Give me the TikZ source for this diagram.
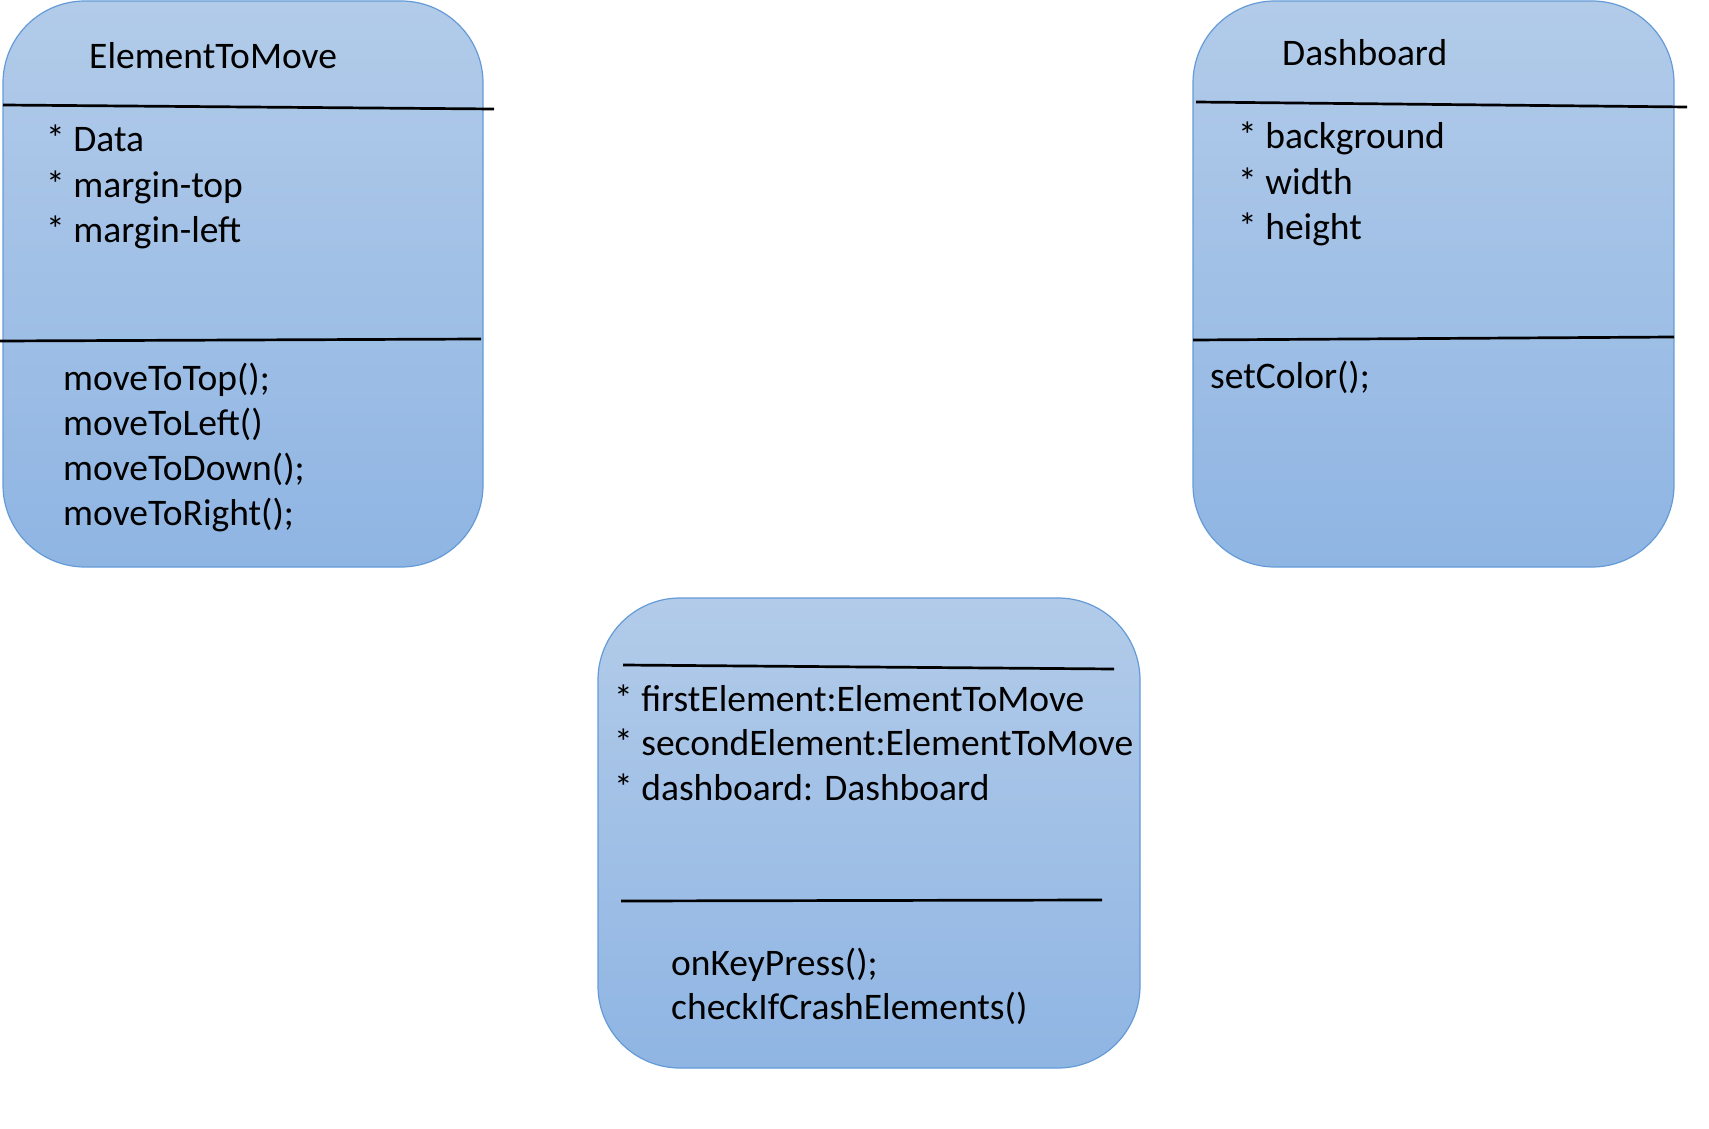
\documentclass[tikz,border=0pt]{standalone}
\usepackage{fontspec}
\setmainfont{Carlito}
\definecolor{boxtop}{RGB}{178,203,233}
\definecolor{boxbot}{RGB}{143,181,227}
\definecolor{boxline}{RGB}{100,155,215}
\tikzset{
  classbox/.style={draw=boxline,line width=1.2pt,rounded corners=82pt,top color=boxtop,bottom color=boxbot},
  sepline/.style={black,line width=2.7pt},
  txt/.style={anchor=base west,inner sep=0pt,font=\fontsize{37.5}{45}\selectfont}
}
\begin{document}
\begin{tikzpicture}[x=1pt,y=-1pt]
 \useasboundingbox (0,0) rectangle (1709,1129);
 % ElementToMove
 \draw[classbox] (3,1) rectangle (483,567);
 \node[txt] (elemtitle) at (89,69) {ElementToMove};
 \draw[sepline] (3,105) -- (494,109);
 \foreach \t [count=\i] in {{* Data},{* margin-top},{* margin-left}}
   \node[txt] (elemattr\i) at (46,152+45*\i-45) {\t};
 \draw[sepline] (0,341) -- (481,339);
 \foreach \t [count=\i] in {{moveToTop();},{moveToLeft()},{moveToDown();},{moveToRight();}}
   \node[txt] (elemop\i) at (63,390+45*\i-45) {\t};
 % Dashboard
 \draw[classbox] (1193,1) rectangle (1674,567);
 \node[txt] (dashtitle) at (1282,66) {Dashboard};
 \draw[sepline] (1196,102) -- (1687,107);
 \foreach \t [count=\i] in {{* background},{* width},{* height}}
   \node[txt] (dashattr\i) at (1238,149+45*\i-45) {\t};
 \draw[sepline] (1193,340) -- (1674,337);
 \node[txt] (dashop1) at (1210,388) {setColor();};
 % game
 \draw[classbox] (598,598) rectangle (1140,1068);
 \draw[sepline] (623,665) -- (1114,669);
 \foreach \t [count=\i] in {{* firstElement:ElementToMove},{* secondElement:ElementToMove},{* dashboard: Dashboard}}
   \node[txt] (gameattr\i) at (614,711+44.5*\i-44.5) {\t};
 \draw[sepline] (621,901) -- (1102,900);
 \foreach \t [count=\i] in {{onKeyPress();},{checkIfCrashElements()}}
   \node[txt] (gameop\i) at (671,975+44*\i-44) {\t};
\end{tikzpicture}
\end{document}
